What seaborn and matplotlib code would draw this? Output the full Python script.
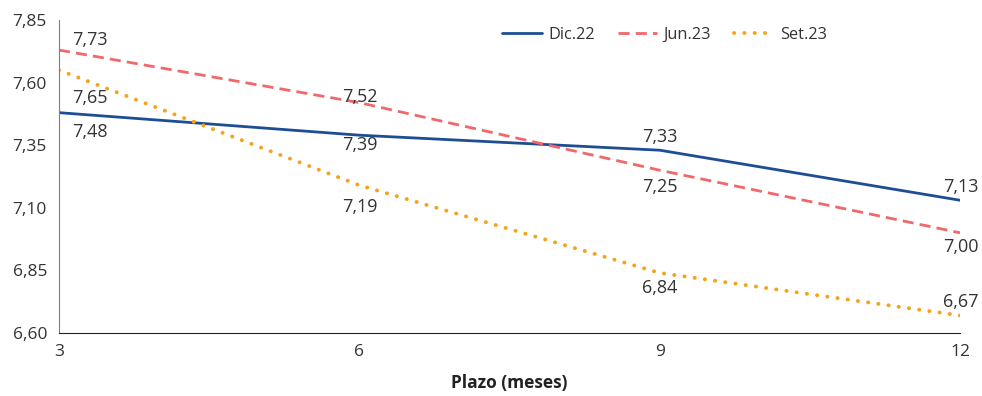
import pandas as pd
import matplotlib
matplotlib.use("Agg")
import matplotlib.pyplot as plt
import seaborn as sns

# Datos
plazos = [3, 6, 9, 12]
dic22 = [7.48, 7.39, 7.33, 7.13]
jun23 = [7.73, 7.52, 7.25, 7.00]
set23 = [7.65, 7.19, 6.84, 6.67]
series = ["Dic.22", "Jun.23", "Set.23"]
y_ticks = [6.60, 6.85, 7.10, 7.35, 7.60, 7.85]

colores = {"Dic.22": "#1d4e94", "Jun.23": "#f0686a", "Set.23": "#f7a21b"}

df = pd.DataFrame({
    "plazo": plazos * 3,
    "tasa": dic22 + jun23 + set23,
    "serie": [s for s in series for _ in plazos],
})

sns.set_style("white")
plt.rcParams["font.family"] = ["Open Sans", "DejaVu Sans"]

fig, ax = plt.subplots(figsize=(9.82, 3.96), dpi=100)
fig.subplots_adjust(left=0.060, right=0.978, top=0.9495, bottom=0.159)

sns.lineplot(data=df, x="plazo", y="tasa", hue="serie", palette=colores, ax=ax,
             legend=False, linewidth=2.0)
for line, s in zip(ax.get_lines(), series):
    if s == "Jun.23":
        line.set_dashes((4, 2.2))
    elif s == "Set.23":
        line.set_dashes((0.05, 2.6))
        line.set_dash_capstyle("round")
        line.set_linewidth(2.8)

# etiquetas de datos (desplazamiento en pixeles)
offsets = {
    "Dic.22": [-19, -10, 13, 13],
    "Jun.23": [10, 6, -17, -14],
    "Set.23": [-28, -22, -15, 14],
}
valores = {"Dic.22": dic22, "Jun.23": jun23, "Set.23": set23}
for s in series:
    for x, y, dy in zip(plazos, valores[s], offsets[s]):
        if x == 3:
            dx, ha = 13, "left"
        else:
            dx, ha = 0, "center"
        ax.annotate(f"{y:.2f}".replace(".", ","), (x, y), xytext=(dx, dy),
                    textcoords="offset pixels", ha=ha, va="center",
                    fontsize=13, color="#333333")

ax.set_xlim(3, 12)
ax.set_ylim(6.60, 7.85)
ax.set_xticks(plazos)
ax.set_xticklabels([str(p) for p in plazos])
ax.set_yticks(y_ticks)
ax.set_yticklabels([f"{t:.2f}".replace(".", ",") for t in y_ticks])
ax.tick_params(axis="both", labelsize=12.5, colors="#333333", length=5,
               width=1, direction="out")
ax.tick_params(axis="x", pad=3)
for side in ["top", "right"]:
    ax.spines[side].set_visible(False)
ax.spines["left"].set_color("#7f7f7f")
ax.spines["bottom"].set_color("#222222")
ax.set_ylabel("")
ax.set_xlabel("Plazo (meses)", fontsize=12.5, fontweight="bold", color="#222222",
              labelpad=10)

handles = [plt.Line2D([], [], color=colores[s]) for s in series]
handles[0].set_linewidth(2.0)
handles[1].set_linewidth(2.0)
handles[1].set_dashes((4, 2.2))
handles[2].set_linewidth(2.8)
handles[2].set_dashes((0.05, 2.6))
handles[2].set_dash_capstyle("round")
ax.legend(handles, series, loc="upper center", bbox_to_anchor=(0.672, 1.025),
          ncol=3, frameon=False, fontsize=11.8, handlelength=2.4,
          columnspacing=1.4, handletextpad=0.4, labelcolor="#333333")

fig.savefig("out.png", dpi=100)
